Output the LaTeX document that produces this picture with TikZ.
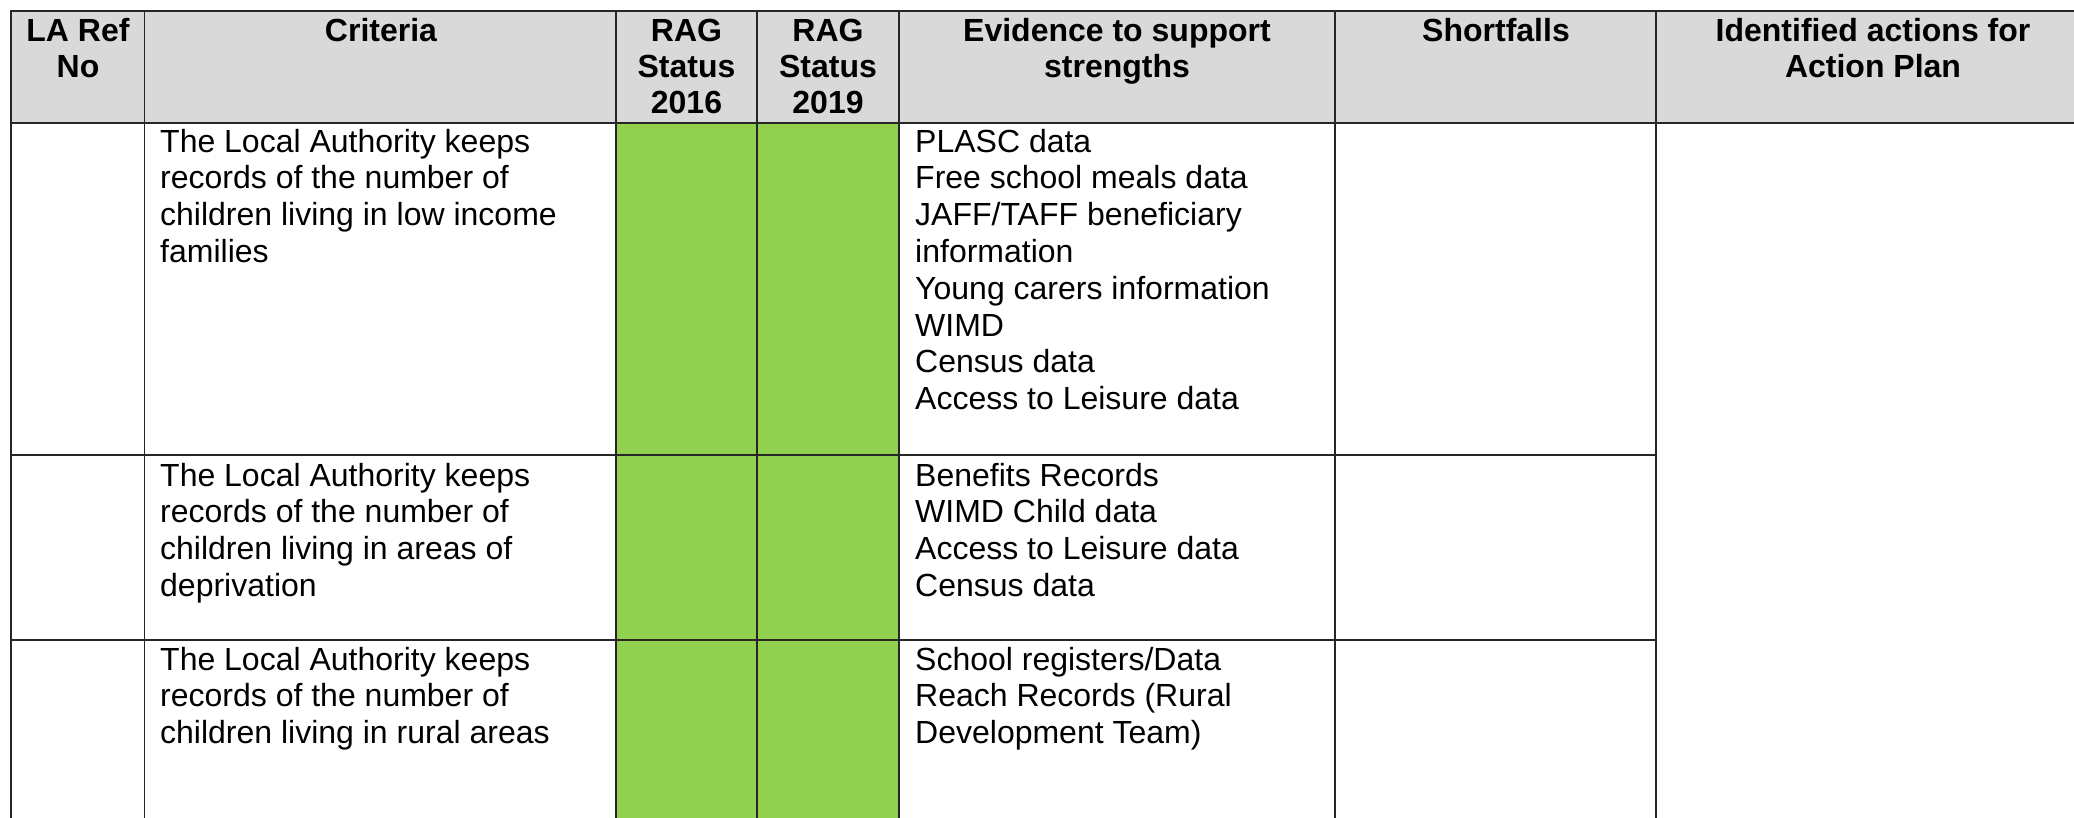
\documentclass[tikz,border=0pt]{standalone}
\usepackage{fontspec}
\setmainfont{Liberation Sans}
\definecolor{hdr}{HTML}{D9D9D9}
\definecolor{rag}{HTML}{92D050}
\tikzset{
  grid/.style={line width=1.5pt, black!85},
  rowline/.style={line width=2pt, black!85},
  bodytext/.style={anchor=north west, inner sep=0pt, align=left, font=\fontsize{32}{36.8}\selectfont},
  headtext/.style={anchor=north, inner sep=0pt, align=center, font=\fontsize{32}{36.2}\selectfont\bfseries},
}
\begin{document}
\begin{tikzpicture}[x=1pt,y=-1pt]
\useasboundingbox (0,0) rectangle (2074,817);
% fills
\fill[hdr] (11,11) rectangle (2090,122.5);
\fill[rag] (616,122.5) rectangle (899,830);
% vertical lines
\foreach \x in {11,144.5,616,757,899,1335,1656}
  \draw[grid] (\x,11) -- (\x,830);
% horizontal lines
\draw[grid] (10.3,11) -- (2090,11);
\draw[rowline] (10.3,122.5) -- (2090,122.5);
\draw[rowline] (10.3,455) -- (1656,455);
\draw[rowline] (10.3,640) -- (1656,640);
% header
\node[headtext] (hLA) at (78,16) {\strut LA Ref\\No};
\node[headtext] (hCrit) at (381,16) {\strut Criteria};
\node[headtext] (hR16) at (686.5,16) {\strut RAG\\Status\\2016};
\node[headtext] (hR19) at (828,16) {\strut RAG\\Status\\2019};
\node[headtext] (hEv) at (1117,16) {\strut Evidence to support\\strengths};
\node[headtext] (hSh) at (1496,16) {\strut Shortfalls};
\node[headtext] (hAct) at (1873,16) {\strut Identified actions for\\Action Plan};
% row 1
\node[bodytext] (c1) at (160,126.2) {\strut The Local Authority keeps\\records of the number of\\children living in low income\\families};
\node[bodytext] (e1) at (915,126.2) {\strut PLASC data\\Free school meals data\\JAFF/TAFF beneficiary\\information\\Young carers information\\WIMD\\Census data\\Access to Leisure data};
% row 2
\node[bodytext] (c2) at (160,460.2) {\strut The Local Authority keeps\\records of the number of\\children living in areas of\\deprivation};
\node[bodytext] (e2) at (915,460.2) {\strut Benefits Records\\WIMD Child data\\Access to Leisure data\\Census data};
% row 3
\node[bodytext] (c3) at (160,644.2) {\strut The Local Authority keeps\\records of the number of\\children living in rural areas};
\node[bodytext] (e3) at (915,644.2) {\strut School registers/Data\\Reach Records (Rural\\Development Team)};
\end{tikzpicture}
\end{document}
